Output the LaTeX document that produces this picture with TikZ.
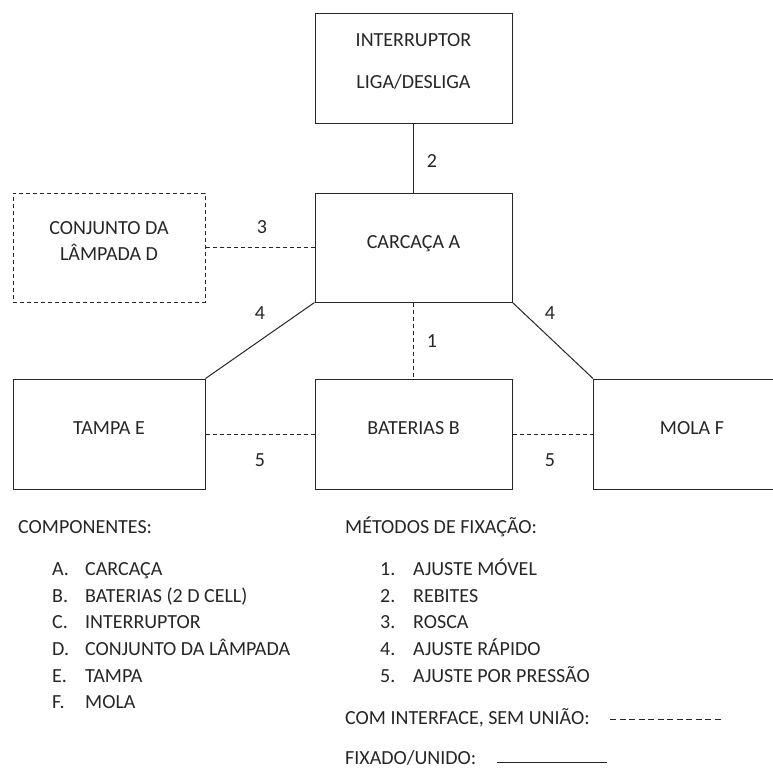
\documentclass[tikz,border=0pt]{standalone}
\usepackage{fontspec}
\setmainfont{Carlito}
\usetikzlibrary{positioning}
\definecolor{txtgray}{HTML}{262626}
\tikzset{
	part/.style={draw=black!85, line width=1pt, minimum height=110pt, inner sep=0pt, text height=13pt, text depth=12pt},
	partn/.style={part, minimum width=197pt},
	partw/.style={part, minimum width=192pt},
	dashd/.style={dash pattern=on 4pt off 3pt},
	txt/.style={inner sep=0pt, text height=13pt, text depth=0pt, text=txtgray},
	link/.style={draw=black!85, line width=1pt}
}

\begin{document}
\begin{tikzpicture}[x=1pt, y=-1pt, font=\fontsize{20}{24}\selectfont, text=txtgray]
		%%%%% START %%%%%
		\useasboundingbox (0, 0) rectangle (773, 769);
		
		% boxes
		\node[partn] (interr) at (413.5, 68) {};
		\node[txt] (interrA) at (413.5, 40) {INTERRUPTOR};
		\node[txt] (interrB) at (413.5, 82) {LIGA/DESLIGA};
		
		\node[partn, minimum height=109pt] (carcaca) at (413.5, 247.5) {CARCAÇA A};
		
		\node[partw, minimum height=109pt, dashd] (lamp) at (109, 247.5) {};
		\node[txt] (lampA) at (109, 228) {CONJUNTO DA};
		\node[txt] (lampB) at (109, 254) {LÂMPADA D};
		
		\node[partw] (tampa) at (109, 434) {TAMPA E};
		\node[partn] (bater) at (413.5, 434) {BATERIAS B};
		\node[partn] (mola) at (692, 434) {MOLA F};
		
		% links
		\draw[link] (interr.south) -- (carcaca.north);
		\draw[link, dashd] (lamp.east) -- (carcaca.west);
		\draw[link, dashd] (carcaca.south) -- (bater.north);
		\draw[link] (carcaca.south west) -- (tampa.north east);
		\draw[link] (carcaca.south east) -- (mola.north west);
		\draw[link, dashd] (tampa.east) -- (bater.west);
		\draw[link, dashd] (bater.east) -- (mola.west);
		
		\node[txt] (n2) at (432, 161) {2};
		\node[txt] (n3) at (262, 227) {3};
		\node[txt] (n1) at (432, 341) {1};
		\node[txt] (n4a) at (260, 313) {4};
		\node[txt] (n4b) at (550, 313) {4};
		\node[txt] (n5a) at (260, 460) {5};
		\node[txt] (n5b) at (550, 460) {5};
		
		% legend
		\node[txt, anchor=west] (comp) at (18, 527) {COMPONENTES:};
		\foreach \l/\t [count=\i] in {A./CARCAÇA, B./BATERIAS (2 D CELL), C./INTERRUPTOR, D./CONJUNTO DA LÂMPADA, E./TAMPA, F./MOLA}
			{\node[txt, anchor=west] (compl\i) at (52, 542.5+26.6*\i) {\l};
			 \node[txt, anchor=west] (compt\i) at (85, 542.5+26.6*\i) {\t};}
		
		\node[txt, anchor=west] (meth) at (345, 527) {MÉTODOS DE FIXAÇÃO:};
		\foreach \t [count=\i] in {AJUSTE MÓVEL, REBITES, ROSCA, AJUSTE RÁPIDO, AJUSTE POR PRESSÃO}
			{\node[txt, anchor=west] (methl\i) at (380, 542.5+26.6*\i) {\i.};
			 \node[txt, anchor=west] (metht\i) at (413, 542.5+26.6*\i) {\t};}
		
		\node[txt, anchor=west] (nojoin) at (345, 718) {COM INTERFACE, SEM UNIÃO:};
		\coordinate (nojoinA) at (610, 719);
		\coordinate (nojoinB) at (723, 719);
		\draw[txtgray, line width=0.9pt, dash pattern=on 6pt off 3.5pt] (nojoinA) -- (nojoinB);
		
		\node[txt, anchor=west] (join) at (345, 758) {FIXADO/UNIDO:};
		\coordinate (joinA) at (497, 762);
		\coordinate (joinB) at (607, 762);
		\draw[txtgray, line width=0.9pt] (joinA) -- (joinB);
		
		%%%%% END %%%%%
	\end{tikzpicture}
\end{document}
